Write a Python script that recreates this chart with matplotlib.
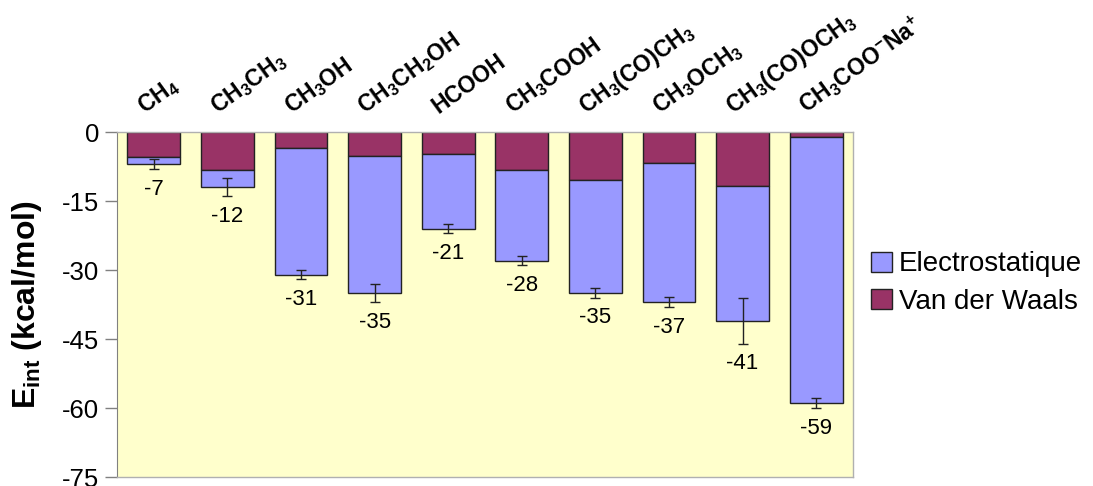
import matplotlib
matplotlib.use("Agg")
import matplotlib.pyplot as plt
import numpy as np

plt.rcParams['font.family'] = ['Liberation Sans', 'DejaVu Sans']
plt.rcParams['mathtext.default'] = 'regular'

# Molecules (mathtext for subscripts / charges)
molecules = [r'CH$_4$', r'CH$_3$CH$_3$', r'CH$_3$OH', r'CH$_3$CH$_2$OH', 'HCOOH',
             r'CH$_3$COOH', r'CH$_3$(CO)CH$_3$', r'CH$_3$OCH$_3$',
             r'CH$_3$(CO)OCH$_3$', r'CH$_3$COO$^{-}$Na$^{+}$']

# Interaction energies (kcal/mol)
total = [-7, -12, -31, -35, -21, -28, -35, -37, -41, -59]
vdw = [-5.5, -8.3, -3.4, -5.3, -4.8, -8.3, -10.4, -6.7, -11.7, -1.0]
elec = [t - v for t, v in zip(total, vdw)]
err = [1.1, 2.0, 1.0, 2.0, 1.0, 1.0, 1.0, 1.1, 5.0, 1.1]

yticks = [0, -15, -30, -45, -60, -75]

col_elec = '#9999FF'
col_vdw = '#993366'

fig = plt.figure(figsize=(10.93, 4.86), dpi=100)
ax = fig.add_axes([117 / 1093, 9 / 486, 736 / 1093, 345 / 486])
ax.set_facecolor('#FFFFCC')

x = np.arange(len(molecules))
w = 0.72
b_vdw = ax.bar(x, vdw, w, color=col_vdw, edgecolor='#222222', linewidth=1.0,
               label='Van der Waals', zorder=2)
b_elec = ax.bar(x, elec, w, bottom=vdw, color=col_elec, edgecolor='#222222',
                linewidth=1.0, label='Electrostatique', zorder=2)
ax.errorbar(x, total, yerr=err, fmt='none', ecolor='#222222', elinewidth=1.0,
            capsize=3.5, capthick=1.0, zorder=3)

for xi, t, e in zip(x, total, err):
    ax.annotate(f'{t:d}', xy=(xi, t - e), xytext=(0, -7), textcoords='offset points',
                ha='center', va='top', fontsize=16)

# Category names above the plot
for xi, name in zip(x, molecules):
    ax.annotate(name, xy=(xi, 0), xytext=(-7, 13), textcoords='offset points',
                rotation=36, rotation_mode='anchor', ha='left', va='baseline',
                fontsize=16.5, fontweight='bold', annotation_clip=False)

ax.set_xlim(-0.5, len(molecules) - 0.5)
ax.set_ylim(-75, 0)
ax.set_xticks([])
ax.set_yticks(yticks)
ax.set_yticklabels([str(v) for v in yticks], fontsize=18.5)
ax.tick_params(axis='y', direction='out', length=9, width=1, color='#808080', pad=4)

for s in ['top', 'right', 'bottom']:
    ax.spines[s].set_color('#b0b0b0')
    ax.spines[s].set_linewidth(1.0)
ax.spines['left'].set_color('#808080')

ax.set_ylabel(r'E$_{int}$ (kcal/mol)', fontsize=23, fontweight='bold')
ax.yaxis.set_label_coords(-0.099, 0.5)

fig.legend([b_elec, b_vdw], ['Electrostatique', 'Van der Waals'],
           loc='center left', bbox_to_anchor=(871 / 1093, 1 - 283 / 486),
           frameon=False, fontsize=20, handlelength=0.75, handleheight=0.75,
           handletextpad=0.25, labelspacing=0.4, borderpad=0, borderaxespad=0)

fig.savefig('out.png', dpi=100)
